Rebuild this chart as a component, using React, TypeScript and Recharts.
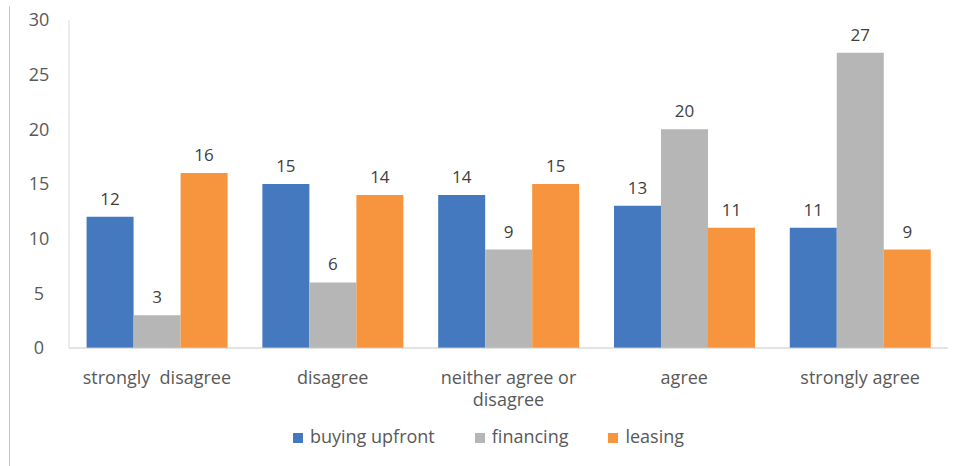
import React from 'react';
import { BarChart, Bar, XAxis, YAxis, Legend, LabelList } from 'recharts';

const categories = ['strongly\u00a0 disagree', 'disagree', 'neither agree or\ndisagree', 'agree', 'strongly agree'];
const buyingUpfront = [12, 15, 14, 13, 11];
const financing = [3, 6, 9, 20, 27];
const leasing = [16, 14, 15, 11, 9];
const yTicks = [0, 5, 10, 15, 20, 25, 30];

const chartData = categories.map((name, i) => ({
    name,
    buying: buyingUpfront[i],
    financing: financing[i],
    leasing: leasing[i],
}));

const FONT = '"Open Sans", "Liberation Sans", sans-serif';

// category labels may carry a line break
const CategoryTick: React.FC<any> = ({ x, y, payload }) => {
    const lines = String(payload.value).split('\n');
    return (
        <text x={x} y={y + 28} textAnchor="middle" fontSize={18} fill="#595959" fontFamily={FONT}>
            {lines.map((line, i) => (
                <tspan key={i} x={x} dy={i === 0 ? 0 : 22}>{line}</tspan>
            ))}
        </text>
    );
};

const App: React.FC = () => {
    return (
        <div style={{ position: 'absolute', top: 0, left: 0, width: 961, height: 466, background: '#fff' }}>
            {/* thin frame line on the left edge of the picture */}
            <div style={{ position: 'absolute', left: 9, top: 6, width: 1, height: 460, background: '#c8c8c8' }} />
            <BarChart
                width={961}
                height={466}
                data={chartData}
                margin={{ top: 20, right: 13, left: 9, bottom: 0 }}
                barCategoryGap="10%"
                barGap={0}
            >
                <XAxis
                    dataKey="name"
                    height={76}
                    tickLine={false}
                    axisLine={{ stroke: '#c8c8c8' }}
                    tick={<CategoryTick />}
                    interval={0}
                />
                <YAxis
                    width={60}
                    domain={[0, 30]}
                    ticks={yTicks}
                    tickLine={false}
                    axisLine={{ stroke: '#d9d9d9' }}
                    tick={{ fontSize: 18, fill: '#595959', fontFamily: FONT, dx: -22 }}
                    textAnchor="middle"
                />
                <Legend
                    verticalAlign="bottom"
                    height={42}
                    iconType="square"
                    iconSize={10}
                    wrapperStyle={{ fontFamily: FONT, fontSize: 18, paddingLeft: 30 }}
                    formatter={(v: string) => <span style={{ color: '#595959', marginLeft: 3, marginRight: 30 }}>{v}</span>}
                />
                <Bar dataKey="buying" name="buying upfront" fill="#4479C0" isAnimationActive={false}>
                    <LabelList dataKey="buying" position="top" offset={12} fill="#404040" fontSize={17} fontFamily={FONT} />
                </Bar>
                <Bar dataKey="financing" name="financing" fill="#B6B6B6" isAnimationActive={false}>
                    <LabelList dataKey="financing" position="top" offset={12} fill="#404040" fontSize={17} fontFamily={FONT} />
                </Bar>
                <Bar dataKey="leasing" name="leasing" fill="#F7953F" isAnimationActive={false}>
                    <LabelList dataKey="leasing" position="top" offset={12} fill="#404040" fontSize={17} fontFamily={FONT} />
                </Bar>
            </BarChart>
        </div>
    );
};

export default App;
